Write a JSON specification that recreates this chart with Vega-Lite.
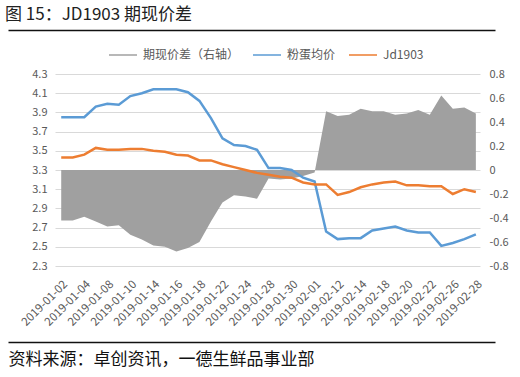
{
  "$schema": "https://vega.github.io/schema/vega-lite/v6.json",
  "width": 425,
  "height": 192,
  "autosize": {"type": "none"},
  "padding": {"left": 55, "top": 74, "right": 40, "bottom": 111},
  "background": "white",
  "config": {"font": "Noto Sans CJK SC", "view": {"stroke": null}},
  "title": {"text": "图 15：JD1903 期现价差", "anchor": "start", "frame": "group", "fontSize": 17, "fontWeight": "normal", "color": "#222222", "dx": -50, "offset": 6},
  "datasets": {
    "spread": [
      {"d": "2019-01-02", "v": -0.42}, {"d": "2019-01-03", "v": -0.42}, {"d": "2019-01-04", "v": -0.39},
      {"d": "2019-01-07", "v": -0.43}, {"d": "2019-01-08", "v": -0.47}, {"d": "2019-01-09", "v": -0.46},
      {"d": "2019-01-10", "v": -0.54}, {"d": "2019-01-11", "v": -0.58}, {"d": "2019-01-14", "v": -0.63},
      {"d": "2019-01-15", "v": -0.64}, {"d": "2019-01-16", "v": -0.68}, {"d": "2019-01-17", "v": -0.65},
      {"d": "2019-01-18", "v": -0.60}, {"d": "2019-01-21", "v": -0.43}, {"d": "2019-01-22", "v": -0.27},
      {"d": "2019-01-23", "v": -0.21}, {"d": "2019-01-24", "v": -0.22}, {"d": "2019-01-25", "v": -0.24},
      {"d": "2019-01-28", "v": -0.07}, {"d": "2019-01-29", "v": -0.08}, {"d": "2019-01-30", "v": -0.07},
      {"d": "2019-01-31", "v": -0.05}, {"d": "2019-02-01", "v": -0.02}, {"d": "2019-02-11", "v": 0.49},
      {"d": "2019-02-12", "v": 0.45}, {"d": "2019-02-13", "v": 0.46}, {"d": "2019-02-14", "v": 0.51},
      {"d": "2019-02-15", "v": 0.49}, {"d": "2019-02-18", "v": 0.49}, {"d": "2019-02-19", "v": 0.46},
      {"d": "2019-02-20", "v": 0.47}, {"d": "2019-02-21", "v": 0.50}, {"d": "2019-02-22", "v": 0.46},
      {"d": "2019-02-25", "v": 0.62}, {"d": "2019-02-26", "v": 0.51}, {"d": "2019-02-27", "v": 0.52},
      {"d": "2019-02-28", "v": 0.47}
    ],
    "prices": [
      {"d": "2019-01-02", "s": "粉蛋均价", "v": 3.85}, {"d": "2019-01-03", "s": "粉蛋均价", "v": 3.85},
      {"d": "2019-01-04", "s": "粉蛋均价", "v": 3.85}, {"d": "2019-01-07", "s": "粉蛋均价", "v": 3.96},
      {"d": "2019-01-08", "s": "粉蛋均价", "v": 3.99}, {"d": "2019-01-09", "s": "粉蛋均价", "v": 3.98},
      {"d": "2019-01-10", "s": "粉蛋均价", "v": 4.07}, {"d": "2019-01-11", "s": "粉蛋均价", "v": 4.10},
      {"d": "2019-01-14", "s": "粉蛋均价", "v": 4.14}, {"d": "2019-01-15", "s": "粉蛋均价", "v": 4.14},
      {"d": "2019-01-16", "s": "粉蛋均价", "v": 4.14}, {"d": "2019-01-17", "s": "粉蛋均价", "v": 4.11},
      {"d": "2019-01-18", "s": "粉蛋均价", "v": 4.02}, {"d": "2019-01-21", "s": "粉蛋均价", "v": 3.84},
      {"d": "2019-01-22", "s": "粉蛋均价", "v": 3.63}, {"d": "2019-01-23", "s": "粉蛋均价", "v": 3.56},
      {"d": "2019-01-24", "s": "粉蛋均价", "v": 3.55}, {"d": "2019-01-25", "s": "粉蛋均价", "v": 3.51},
      {"d": "2019-01-28", "s": "粉蛋均价", "v": 3.32}, {"d": "2019-01-29", "s": "粉蛋均价", "v": 3.32},
      {"d": "2019-01-30", "s": "粉蛋均价", "v": 3.30}, {"d": "2019-01-31", "s": "粉蛋均价", "v": 3.22},
      {"d": "2019-02-01", "s": "粉蛋均价", "v": 3.18}, {"d": "2019-02-11", "s": "粉蛋均价", "v": 2.66},
      {"d": "2019-02-12", "s": "粉蛋均价", "v": 2.58}, {"d": "2019-02-13", "s": "粉蛋均价", "v": 2.59},
      {"d": "2019-02-14", "s": "粉蛋均价", "v": 2.59}, {"d": "2019-02-15", "s": "粉蛋均价", "v": 2.67},
      {"d": "2019-02-18", "s": "粉蛋均价", "v": 2.69}, {"d": "2019-02-19", "s": "粉蛋均价", "v": 2.71},
      {"d": "2019-02-20", "s": "粉蛋均价", "v": 2.67}, {"d": "2019-02-21", "s": "粉蛋均价", "v": 2.65},
      {"d": "2019-02-22", "s": "粉蛋均价", "v": 2.65}, {"d": "2019-02-25", "s": "粉蛋均价", "v": 2.51},
      {"d": "2019-02-26", "s": "粉蛋均价", "v": 2.54}, {"d": "2019-02-27", "s": "粉蛋均价", "v": 2.58},
      {"d": "2019-02-28", "s": "粉蛋均价", "v": 2.63},
      {"d": "2019-01-02", "s": "Jd1903", "v": 3.43}, {"d": "2019-01-03", "s": "Jd1903", "v": 3.43},
      {"d": "2019-01-04", "s": "Jd1903", "v": 3.46}, {"d": "2019-01-07", "s": "Jd1903", "v": 3.53},
      {"d": "2019-01-08", "s": "Jd1903", "v": 3.51}, {"d": "2019-01-09", "s": "Jd1903", "v": 3.51},
      {"d": "2019-01-10", "s": "Jd1903", "v": 3.52}, {"d": "2019-01-11", "s": "Jd1903", "v": 3.52},
      {"d": "2019-01-14", "s": "Jd1903", "v": 3.50}, {"d": "2019-01-15", "s": "Jd1903", "v": 3.49},
      {"d": "2019-01-16", "s": "Jd1903", "v": 3.46}, {"d": "2019-01-17", "s": "Jd1903", "v": 3.45},
      {"d": "2019-01-18", "s": "Jd1903", "v": 3.40}, {"d": "2019-01-21", "s": "Jd1903", "v": 3.40},
      {"d": "2019-01-22", "s": "Jd1903", "v": 3.36}, {"d": "2019-01-23", "s": "Jd1903", "v": 3.33},
      {"d": "2019-01-24", "s": "Jd1903", "v": 3.30}, {"d": "2019-01-25", "s": "Jd1903", "v": 3.27},
      {"d": "2019-01-28", "s": "Jd1903", "v": 3.25}, {"d": "2019-01-29", "s": "Jd1903", "v": 3.23},
      {"d": "2019-01-30", "s": "Jd1903", "v": 3.22}, {"d": "2019-01-31", "s": "Jd1903", "v": 3.17},
      {"d": "2019-02-01", "s": "Jd1903", "v": 3.15}, {"d": "2019-02-11", "s": "Jd1903", "v": 3.15},
      {"d": "2019-02-12", "s": "Jd1903", "v": 3.04}, {"d": "2019-02-13", "s": "Jd1903", "v": 3.07},
      {"d": "2019-02-14", "s": "Jd1903", "v": 3.12}, {"d": "2019-02-15", "s": "Jd1903", "v": 3.15},
      {"d": "2019-02-18", "s": "Jd1903", "v": 3.17}, {"d": "2019-02-19", "s": "Jd1903", "v": 3.18},
      {"d": "2019-02-20", "s": "Jd1903", "v": 3.14}, {"d": "2019-02-21", "s": "Jd1903", "v": 3.14},
      {"d": "2019-02-22", "s": "Jd1903", "v": 3.13}, {"d": "2019-02-25", "s": "Jd1903", "v": 3.13},
      {"d": "2019-02-26", "s": "Jd1903", "v": 3.05}, {"d": "2019-02-27", "s": "Jd1903", "v": 3.10},
      {"d": "2019-02-28", "s": "Jd1903", "v": 3.07}
    ]
  },
  "layer": [
    {
      "data": {"name": "spread"},
      "mark": {"type": "area", "opacity": 1},
      "encoding": {
        "x": {
          "field": "d", "type": "ordinal",
          "scale": {"type": "point", "padding": 0.45, "align": 0.6},
          "axis": null
        },
        "y": {
          "field": "v", "type": "quantitative",
          "scale": {"domain": [-0.8, 0.8], "nice": false, "zero": false},
          "axis": {"orient": "right", "values": [-0.8, -0.6, -0.4, -0.2, 0, 0.2, 0.4, 0.6, 0.8], "labelExpr": "datum.value == 0 ? '0' : (datum.value < 0 ? '-' + format(-datum.value, '.1f') : format(datum.value, '.1f'))", "grid": false, "domain": false, "ticks": false, "labelColor": "#595959", "labelFontSize": 11, "labelPadding": 9, "title": null}
        },
        "y2": {"datum": 0},
        "color": {
          "datum": "期现价差（右轴）",
          "title": null,
          "scale": {"domain": ["期现价差（右轴）", "粉蛋均价", "Jd1903"], "range": ["#A0A0A0", "#5B9BD5", "#ED7D31"]},
          "legend": {
            "orient": "none", "legendX": 53, "legendY": -34, "direction": "horizontal", "title": null,
            "symbolType": "stroke", "symbolSize": 784, "labelFontSize": 12, "labelColor": "#595959",
            "labelOffset": 5, "columnPadding": 10,
            "encode": {"symbols": {"update": {"strokeWidth": {"signal": "datum.label === '期现价差（右轴）' ? 9 : 3"}, "stroke": {"scale": "color", "field": "value"}, "fill": {"value": "transparent"}}}}
          }
        }
      }
    },
    {
      "data": {"name": "prices"},
      "mark": {"type": "line", "strokeWidth": 2.5},
      "encoding": {
        "x": {
          "field": "d", "type": "ordinal",
          "scale": {"type": "point", "padding": 0.45, "align": 0.6},
          "axis": {
            "orient": "bottom", "labelPadding": 12, "ticks": false, "grid": false, "domain": false,
            "labelAngle": -45, "labelFontSize": 11.5, "labelColor": "#595959",
            "values": ["2019-01-02", "2019-01-04", "2019-01-08", "2019-01-10", "2019-01-14", "2019-01-16", "2019-01-18", "2019-01-22", "2019-01-24", "2019-01-28", "2019-01-30", "2019-02-01", "2019-02-12", "2019-02-14", "2019-02-18", "2019-02-20", "2019-02-22", "2019-02-26", "2019-02-28"],
            "title": null
          }
        },
        "y": {
          "field": "v", "type": "quantitative",
          "scale": {"domain": [2.3, 4.3], "nice": false, "zero": false},
          "axis": {"orient": "left", "values": [2.3, 2.5, 2.7, 2.9, 3.1, 3.3, 3.5, 3.7, 3.9, 4.1, 4.3], "format": ".1f", "grid": true, "gridColor": "#D9D9D9", "domain": false, "ticks": false, "labelColor": "#595959", "labelFontSize": 11, "labelPadding": 8, "title": null}
        },
        "color": {"field": "s", "type": "nominal", "title": null}
      }
    },
    {
      "data": {"name": "spread"},
      "mark": {"type": "rule", "opacity": 0},
      "encoding": {
        "x": {
          "field": "d", "type": "temporal",
          "scale": {"range": [-47, 440], "nice": false},
          "axis": {"orient": "top", "offset": 44, "labels": false, "ticks": false, "grid": false, "domain": true, "domainColor": "#111111", "domainWidth": 1.5, "title": null}
        }
      }
    },
    {
      "data": {"name": "spread"},
      "mark": {"type": "rule", "opacity": 0},
      "encoding": {
        "x": {
          "field": "d", "type": "temporal",
          "scale": {"range": [-47, 440], "nice": false},
          "axis": {
            "orient": "bottom", "offset": 76, "labels": false, "ticks": false, "grid": false, "domain": true, "domainColor": "#111111", "domainWidth": 1.5,
            "title": "资料来源：卓创资讯，一德生鲜品事业部", "titleFontSize": 17, "titleFontWeight": "normal", "titleColor": "#111111",
            "titleAnchor": "start", "titleAlign": "left", "titleBaseline": "top", "titleX": -47, "titleY": 9
          }
        }
      }
    }
  ],
  "resolve": {"scale": {"x": "independent", "y": "independent"}, "axis": {"x": "independent"}}
}
